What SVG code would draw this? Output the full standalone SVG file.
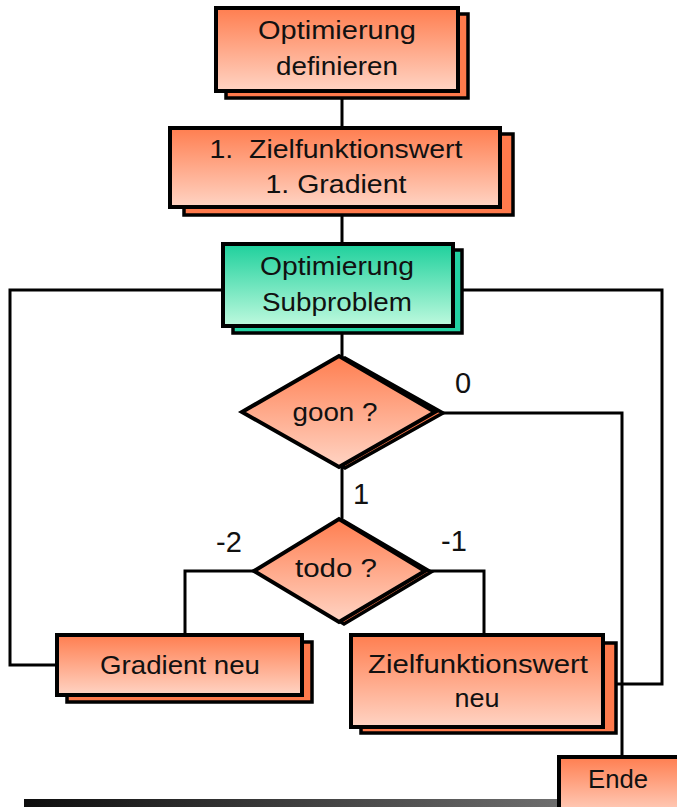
<svg xmlns="http://www.w3.org/2000/svg" width="677" height="807" viewBox="0 0 677 807">
<style>
.front{stroke:#000;stroke-width:4}
.or{fill:url(#gOr)}
.tl{fill:url(#gTl)}
.sh{fill:#FF7A4C;stroke:#000;stroke-width:3.5}
.shT{fill:#22D2A2;stroke:#000;stroke-width:3.5}
.conn{fill:none;stroke:#000;stroke-width:3}
text{font-family:"Liberation Sans",Arial,sans-serif;font-size:26px;fill:#111;text-anchor:middle}
.lbl{font-size:29px}
</style>
<defs>
<linearGradient id="gOr" x1="0" y1="0" x2="0" y2="1">
<stop offset="0" stop-color="#FF7E50"/>
<stop offset="1" stop-color="#FFD4C4"/>
</linearGradient>
<linearGradient id="gTl" x1="0" y1="0" x2="0" y2="1">
<stop offset="0" stop-color="#1ED09C"/>
<stop offset="1" stop-color="#BEF9DE"/>
</linearGradient>
<linearGradient id="gBar" x1="0" y1="0" x2="1" y2="0">
<stop offset="0" stop-color="#0E0E0E"/>
<stop offset="1" stop-color="#6E6E6E"/>
</linearGradient>
</defs>
<rect x="24" y="799" width="536" height="8" fill="url(#gBar)"/>
<g id="connectors">
<path class="conn" d="M342 91V128"/>
<path class="conn" d="M342 207V244"/>
<path class="conn" d="M342 326V358"/>
<path class="conn" d="M342 466V521"/>
<path class="conn" d="M57 665H10V290H223"/>
<path class="conn" d="M616 684H662V290H462"/>
<path class="conn" d="M440 413H622V757"/>
<path class="conn" d="M254 571H185V635"/>
<path class="conn" d="M428 571H484V635"/>
<text class="lbl" x="463" y="393">0</text>
<text class="lbl" x="361" y="504">1</text>
<text class="lbl" x="229" y="552">-2</text>
<text class="lbl" x="454" y="551">-1</text>
</g>
<g id="n1">
<rect class="sh" x="226" y="14" width="242" height="84"/>
<rect class="front or" x="216" y="8" width="242" height="83"/>
<text x="337" y="39" textLength="158" lengthAdjust="spacingAndGlyphs">Optimierung</text>
<text x="337" y="75" textLength="122" lengthAdjust="spacingAndGlyphs">definieren</text>
</g>
<g id="n2">
<rect class="sh" x="184" y="134" width="329" height="81"/>
<rect class="front or" x="170" y="128" width="330" height="79"/>
<text x="336" y="158" textLength="253" lengthAdjust="spacingAndGlyphs" xml:space="preserve">1.  Zielfunktionswert</text>
<text x="336" y="193" textLength="141" lengthAdjust="spacingAndGlyphs">1. Gradient</text>
</g>
<g id="n3">
<rect class="shT" x="233" y="250" width="229" height="83"/>
<rect class="front tl" x="223" y="244" width="230" height="82"/>
<text x="337" y="275" textLength="154" lengthAdjust="spacingAndGlyphs">Optimierung</text>
<text x="337" y="311" textLength="150" lengthAdjust="spacingAndGlyphs">Subproblem</text>
</g>
<g id="goon">
<polygon class="sh" points="248,413 345,358 443,413 345,468"/>
<polygon class="front or" points="242,412 339,356 435,412 339,467"/>
<text x="335" y="421" textLength="85" lengthAdjust="spacingAndGlyphs">goon ?</text>
</g>
<g id="todo">
<polygon class="sh" points="259,572 344,521 431,572 344,624"/>
<polygon class="front or" points="254,571 339,519 425,571 339,622"/>
<text x="336" y="577" textLength="82" lengthAdjust="spacingAndGlyphs">todo ?</text>
</g>
<g id="gradneu">
<rect class="sh" x="67" y="642" width="245" height="60"/>
<rect class="front or" x="57" y="635" width="245" height="60"/>
<text x="180" y="674" textLength="160" lengthAdjust="spacingAndGlyphs">Gradient neu</text>
</g>
<g id="zielneu">
<rect class="sh" x="361" y="643" width="255" height="90"/>
<rect class="front or" x="351" y="635" width="252" height="92"/>
<text x="478" y="673" textLength="220" lengthAdjust="spacingAndGlyphs">Zielfunktionswert</text>
<text x="477" y="707" textLength="45" lengthAdjust="spacingAndGlyphs">neu</text>
</g>
<g id="ende">
<rect class="front or" x="559" y="757" width="125" height="60"/>
<text x="618" y="788" textLength="60" lengthAdjust="spacingAndGlyphs">Ende</text>
</g>
</svg>
